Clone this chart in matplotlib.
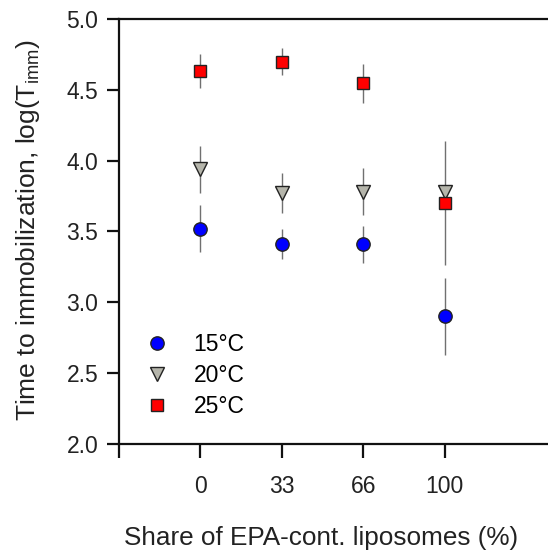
import matplotlib
matplotlib.use("Agg")
import matplotlib.pyplot as plt
import numpy as np

plt.rcParams['font.family'] = ['Liberation Sans', 'DejaVu Sans']
plt.rcParams['mathtext.fontset'] = 'custom'
plt.rcParams['mathtext.rm'] = 'Liberation Sans'

categories = ['0', '33', '66', '100']
t15 = [3.52, 3.41, 3.41, 2.90]
e15 = [0.165, 0.105, 0.13, 0.27]
t20 = [3.94, 3.77, 3.78, 3.78]
e20 = [0.165, 0.14, 0.165, 0.03]
t25 = [4.63, 4.70, 4.545, 3.70]
e25 = [0.12, 0.095, 0.14, 0.44]
labels = ['15°C', '20°C', '25°C']

W, H = 548, 552
fig = plt.figure(figsize=(W/100, H/100), dpi=100)
left, right, top, bottom = 119, 548, 19, 444
ax = fig.add_axes([left/W, (H-bottom)/H, (right-left)/W, (bottom-top)/H])

x = np.arange(len(categories))
styles = [
    dict(marker='o', color='#0000ff', ms=9.6),
    dict(marker='v', color='#b5b5ab', ms=9.8),
    dict(marker='s', color='#ff0000', ms=8.4),
]
handles = []
for vals, errs, st, lab in zip([t15, t20, t25], [e15, e20, e25], styles, labels):
    ax.errorbar(x, vals, yerr=errs, fmt='none', ecolor='#707070', elinewidth=1.0, capsize=0, zorder=2)
    h, = ax.plot(x, vals, linestyle='none', marker=st['marker'], ms=st['ms'],
                 markerfacecolor=st['color'], markeredgecolor='#222222', markeredgewidth=1.0,
                 zorder=3, label=lab)
    handles.append(h)

ax.set_xlim(-1, 4.27)
ax.set_ylim(2.0, 5.0)
ax.set_yticks(np.arange(2.0, 5.01, 0.5))
ax.set_yticklabels([f'{v:.1f}' for v in np.arange(2.0, 5.01, 0.5)])
ax.set_xticks([-1] + list(x))
ax.set_xticklabels([''] + categories)

for s in ['left', 'bottom', 'top']:
    ax.spines[s].set_linewidth(1.6)
    ax.spines[s].set_color('#111111')
ax.spines['right'].set_visible(False)

ax.tick_params(axis='y', direction='out', length=9, width=1.6, labelsize=16.5, pad=6, colors='#111111')
ax.tick_params(axis='x', direction='out', length=10, width=1.6, labelsize=16.5, pad=12, colors='#111111')
for lbl in ax.get_xticklabels() + ax.get_yticklabels():
    lbl.set_color('#222222')

ax.set_xlabel('Share of EPA-cont. liposomes (%)', fontsize=18.8, color='#222222')
ax.set_ylabel(r'Time to immobilization, $\mathregular{log(T_{imm})}$', fontsize=19, color='#222222')
ax.xaxis.set_label_coords((321-left)/(right-left), -(526-bottom)/(bottom-top))
ax.yaxis.set_label_coords(-(119-14)/(right-left), (bottom-230)/(bottom-top))
ax.yaxis.label.set_va('top')

leg = ax.legend(handles=handles, loc='upper left', bbox_to_anchor=(0.035, 0.283), frameon=False,
                fontsize=16.5, handletextpad=1.0, labelspacing=0.36, handlelength=1.2, borderaxespad=0)

fig.savefig('out.png', dpi=100)
